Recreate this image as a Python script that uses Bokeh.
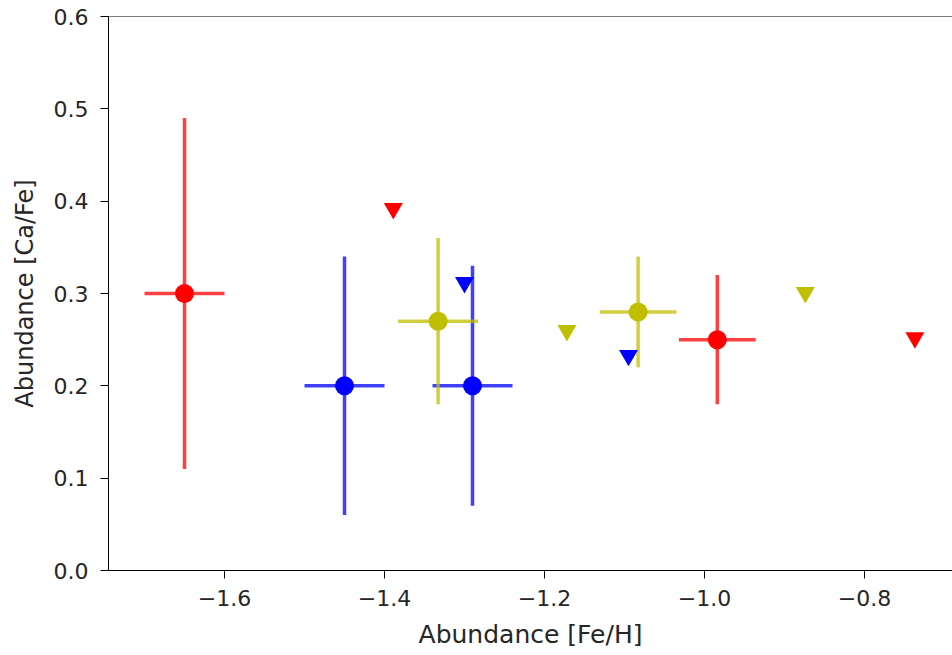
import numpy as np
from bokeh.plotting import figure
from bokeh.models import Range1d, FixedTicker, Span
from bokeh.embed import file_html
from bokeh.resources import INLINE

# Measurements with error bars (circles)
red_x = [-1.65, -0.984]
red_y = [0.30, 0.25]
red_xerr = [0.05, 0.048]
red_yerr = [0.19, 0.07]

blue_x = [-1.45, -1.29]
blue_y = [0.20, 0.20]
blue_xerr = [0.05, 0.05]
blue_yerr = [0.14, 0.13]

yel_x = [-1.333, -1.083]
yel_y = [0.27, 0.28]
yel_xerr = [0.05, 0.048]
yel_yerr = [0.09, 0.06]

# Upper limits (downward triangles)
red_lim_x = [-1.389, -0.737]
red_lim_y = [0.392, 0.252]
blue_lim_x = [-1.30, -1.095]
blue_lim_y = [0.312, 0.233]
yel_lim_x = [-1.172, -0.874]
yel_lim_y = [0.260, 0.301]

x_ticks = [-1.6, -1.4, -1.2, -1.0, -0.8]
y_ticks = [0.0, 0.1, 0.2, 0.3, 0.4, 0.5, 0.6]

FONT = "DejaVu Sans"

p = figure(width=952, height=655, output_backend="svg", toolbar_location=None,
           x_range=Range1d(-1.745, -0.69), y_range=Range1d(0.0, 0.6),
           min_border_left=108, min_border_right=0, min_border_top=16, min_border_bottom=85)
p.grid.visible = False
p.outline_line_color = None
p.background_fill_color = "white"
p.border_fill_color = "white"

p.add_layout(Span(location=0.6, dimension="width", line_color="black", line_width=1))

series = [
    (red_x, red_y, red_xerr, red_yerr, "#ff0000"),
    (blue_x, blue_y, blue_xerr, blue_yerr, "#0000ff"),
    (yel_x, yel_y, yel_xerr, yel_yerr, "#bfbf00"),
]
for xs, ys, xe, ye, c in series:
    xs = np.array(xs); ys = np.array(ys); xe = np.array(xe); ye = np.array(ye)
    p.segment(x0=xs - xe, y0=ys, x1=xs + xe, y1=ys, line_color=c, line_width=3.5, line_alpha=0.75)
    p.segment(x0=xs, y0=ys - ye, x1=xs, y1=ys + ye, line_color=c, line_width=3.5, line_alpha=0.75)
    p.scatter(xs, ys, marker="circle", size=19, fill_color=c, line_color=c, line_width=0)

for xs, ys, c in [(red_lim_x, red_lim_y, "#ff0000"), (blue_lim_x, blue_lim_y, "#0000ff"),
                  (yel_lim_x, yel_lim_y, "#bfbf00")]:
    p.scatter(xs, ys, marker="inverted_triangle", size=19, fill_color=c, line_color=c, line_width=0)

p.xaxis.ticker = FixedTicker(ticks=x_ticks)
p.yaxis.ticker = FixedTicker(ticks=y_ticks)
p.xaxis.major_label_overrides = {t: ("\u2212" + f"{abs(t):.1f}") for t in x_ticks}
p.yaxis.major_label_overrides = {t: f"{t:.1f}" for t in y_ticks}
p.xaxis.axis_label = "Abundance [Fe/H]"
p.yaxis.axis_label = "Abundance [Ca/Fe]"
for ax in (p.xaxis, p.yaxis):
    ax.minor_tick_line_color = None
    ax.major_tick_in = 0
    ax.major_tick_out = 8
    ax.major_label_text_font = FONT
    ax.major_label_text_font_size = "22px"
    ax.major_label_text_color = "#262626"
    ax.axis_label_text_font = FONT
    ax.axis_label_text_font_size = "24px"
    ax.axis_label_text_font_style = "normal"
    ax.axis_label_text_color = "#262626"
    ax.axis_line_color = "black"
    ax.major_tick_line_color = "black"
p.xaxis.axis_label_text_font_size = "25px"
p.xaxis.major_label_standoff = 11
p.yaxis.major_label_standoff = 12
p.xaxis.axis_label_standoff = 11
p.yaxis.axis_label_standoff = 12

open("out.html", "w").write(file_html(p, INLINE))
